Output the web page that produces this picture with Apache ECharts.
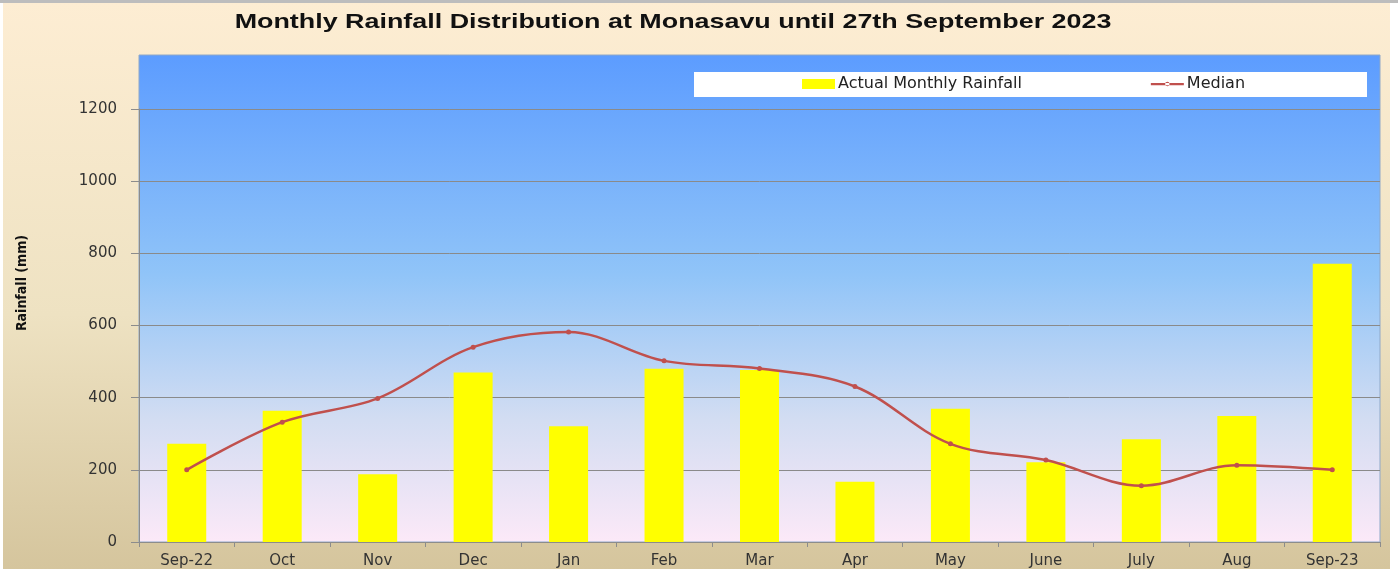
<!DOCTYPE html>
<html>
<head>
<meta charset="utf-8">
<script src="https://cdn.jsdelivr.net/npm/echarts@6/dist/echarts.min.js"></script>
<style>
    html, body { margin: 0; padding: 0; background: #fff; }
    #main { width: 1398px; height: 569px; }
</style>
</head>
<body>
<div id="main"></div>
<script>
// months shown on the x axis
const months = ['Sep-22', 'Oct', 'Nov', 'Dec', 'Jan', 'Feb', 'Mar', 'Apr', 'May', 'June', 'July', 'Aug', 'Sep-23'];
// actual monthly rainfall (mm)
const actualRain = [272, 364, 188, 470, 321, 480, 477, 167, 369, 221, 285, 349, 771];
// median monthly rainfall (mm)
const medianRain = [200, 332, 398, 540, 582, 502, 481, 431, 272, 227, 156, 213, 200];

const chart = echarts.init(document.getElementById('main'));

const option = {
    animation: false,
    graphic: [
        {
            type: 'rect', z: -10, silent: true,
            shape: { x: 3, y: 3, width: 1387, height: 566 },
            style: {
                fill: new echarts.graphic.LinearGradient(0, 0, 0, 1, [
                    { offset: 0, color: '#FDEDD3' },
                    { offset: 0.55, color: '#EEE2C2' },
                    { offset: 1, color: '#D5C59D' }
                ])
            }
        },
        {
            type: 'rect', z: -10, silent: true,
            shape: { x: 0, y: 0, width: 1398, height: 3 },
            style: { fill: '#BDBDBD' }
        },
        {
            type: 'rect', z: -9, silent: true,
            shape: { x: 139, y: 55, width: 1241, height: 487 },
            style: {
                fill: new echarts.graphic.LinearGradient(0, 0, 0, 1, [
                    { offset: 0, color: '#5C9CFF' },
                    { offset: 0.45, color: '#90C4F8' },
                    { offset: 0.75, color: '#D3DDF2' },
                    { offset: 1, color: '#FCE9F8' }
                ]),
                stroke: '#8FA8C8',
                lineWidth: 1
            }
        },
        {
            type: 'rect', z: -8, silent: true,
            shape: { x: 694, y: 72, width: 673, height: 25 },
            style: { fill: '#FFFFFF' }
        },
        {
            // chart title, stretched like the original
            type: 'text', silent: true,
            x: 673, y: 22, scaleX: 1.28,
            style: {
                text: 'Monthly Rainfall Distribution at Monasavu until 27th September 2023',
                font: 'bold 21px "Liberation Sans"',
                fill: '#111',
                textAlign: 'center',
                textVerticalAlign: 'middle'
            }
        },
        {
            type: 'text', silent: true,
            x: 22, y: 283, rotation: Math.PI / 2,
            style: {
                text: 'Rainfall (mm)',
                font: 'bold 14px "DejaVu Sans Condensed", "Liberation Sans"',
                fill: '#111',
                textAlign: 'center',
                textVerticalAlign: 'middle'
            }
        }
    ],
    legend: {
        left: 802,
        top: 76,
        padding: 0,
        itemGap: 129,
        itemWidth: 33,
        itemHeight: 10,
        textStyle: { fontFamily: 'DejaVu Sans', fontSize: 16, color: '#222', padding: [0, 0, 0, -2] },
        data: [
            { name: 'Actual Monthly Rainfall', icon: 'rect' },
            { name: 'Median', icon: 'path://M0,4H33V6.2H0Z M14.3,5a2.2,2.2 0 1,0 4.4,0a2.2,2.2 0 1,0 -4.4,0Z' }
        ]
    },
    grid: { left: 139, right: 18, top: 109, bottom: 27 },
    xAxis: {
        type: 'category',
        data: months,
        axisLine: { lineStyle: { color: '#8C8C8C', width: 1 } },
        axisTick: { show: true, length: 5, lineStyle: { color: '#8C8C8C' } },
        axisLabel: {
            fontFamily: 'DejaVu Sans',
            fontSize: 15,
            color: '#333',
            margin: 12,
            interval: 0
        }
    },
    yAxis: {
        type: 'value',
        min: 0,
        max: 1200,
        interval: 200,
        axisLine: { show: true, lineStyle: { color: '#8C8C8C' } },
        axisTick: { show: true, length: 8, lineStyle: { color: '#8C8C8C' } },
        axisLabel: {
            fontFamily: 'DejaVu Sans',
            fontSize: 15,
            color: '#333',
            margin: 22,
            formatter: v => String(v)
        },
        splitLine: { lineStyle: { color: '#8A8A8A', width: 1 } }
    },
    series: [
        {
            name: 'Actual Monthly Rainfall',
            type: 'bar',
            data: actualRain,
            barWidth: 39,
            itemStyle: { color: '#FFFF00' }
        },
        {
            name: 'Median',
            type: 'line',
            data: medianRain,
            smooth: 0.35,
            symbol: 'circle',
            symbolSize: 5,
            lineStyle: { color: '#C0504D', width: 2.5 },
            itemStyle: { color: '#C0504D' }
        }
    ]
};

chart.setOption(option);
</script>
</body>
</html>
